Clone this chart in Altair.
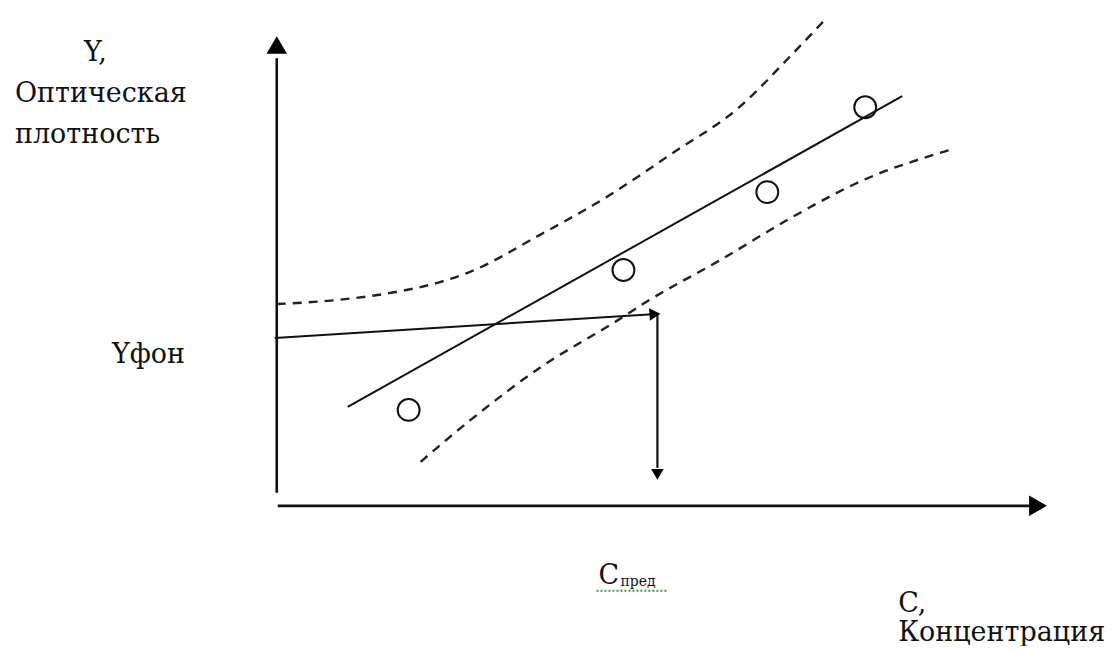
import altair as alt
import pandas as pd

# Coordinate system of the schematic: C (concentration) and Y (optical density), arbitrary units
X_DOMAIN = [-2.69, 8.29]
Y_DOMAIN = [-1.36, 4.98]

# Calibration points (circles)
pts_c = [1.32, 3.47, 4.91, 5.89]
pts_y = [0.96, 2.36, 3.14, 3.99]

# Upper confidence band (dashed)
up_c = [0.00, 0.60, 1.13, 1.60, 1.93, 2.63, 3.30, 3.96, 4.63, 5.13, 5.51]
up_y = [2.02, 2.06, 2.13, 2.23, 2.34, 2.71, 3.09, 3.53, 3.99, 4.49, 4.89]

# Lower confidence band (dashed)
lo_c = [1.44, 1.94, 2.66, 3.37, 3.73, 4.44, 5.16, 5.87, 6.73]
lo_y = [0.44, 0.86, 1.40, 1.83, 2.06, 2.46, 2.89, 3.26, 3.56]

# Solid segments: axes, regression line, arrows
seg_name = ["yaxis", "xaxis", "regr", "harrow", "varrow"]
seg_c1 = [0.00, 0.01, 0.71, -0.02, 3.81]
seg_y1 = [0.13, 0.00, 0.99, 1.68, 1.92]
seg_c2 = [0.00, 7.55, 6.26, 3.80, 3.81]
seg_y2 = [4.48, 0.00, 4.10, 1.92, 0.38]
seg_w = [2.6, 2.6, 2.0, 2.0, 2.2]

# Arrow heads
head_c = [0.00, 7.59, 3.767, 3.81]
head_y = [4.583, 0.00, 1.917, 0.333]
head_ang = [0, 90, 86, 180]
head_size = [420, 420, 160, 160]

# Labels
lab_text = ["Y,", "Оптическая", "плотность", "Yфон", "C", "C,", "Концентрация"]
lab_c = [-1.93, -2.62, -2.62, -1.65, 3.22, 6.22, 6.22]
lab_y = [4.45, 4.04, 3.63, 1.43, -0.78, -1.06, -1.35]
sub_text = ["пред"]
sub_c = [3.44]
sub_y = [-0.80]

xs = alt.Scale(domain=X_DOMAIN, nice=False, zero=False)
ys = alt.Scale(domain=Y_DOMAIN, nice=False, zero=False)

segs = pd.DataFrame({"name": seg_name, "c1": seg_c1, "y1": seg_y1,
                     "c2": seg_c2, "y2": seg_y2, "w": seg_w})
rules = alt.Chart(segs).mark_rule(color="#111", strokeCap="butt").encode(
    x=alt.X("c1:Q", scale=xs, axis=None),
    y=alt.Y("y1:Q", scale=ys, axis=None),
    x2="c2:Q", y2="y2:Q",
    strokeWidth=alt.StrokeWidth("w:Q", scale=None),
)

band = pd.DataFrame({
    "c": up_c + lo_c,
    "y": up_y + lo_y,
    "band": ["upper"] * len(up_c) + ["lower"] * len(lo_c),
    "i": list(range(len(up_c))) + list(range(len(lo_c))),
})
bands = alt.Chart(band).mark_line(color="#222", strokeWidth=2.4,
                                  strokeDash=[9, 7], interpolate="monotone").encode(
    x=alt.X("c:Q", scale=xs, axis=None),
    y=alt.Y("y:Q", scale=ys, axis=None),
    detail="band:N",
    order="i:Q",
)

pts = pd.DataFrame({"c": pts_c, "y": pts_y})
circles = alt.Chart(pts).mark_point(shape="circle", filled=False, color="#111",
                                    size=480, strokeWidth=2.0, opacity=1).encode(
    x=alt.X("c:Q", scale=xs, axis=None),
    y=alt.Y("y:Q", scale=ys, axis=None),
)

heads = pd.DataFrame({"c": head_c, "y": head_y, "ang": head_ang, "s": head_size})
arrows = alt.Chart(heads).mark_point(shape="triangle", filled=True, color="#000",
                                     opacity=1, strokeWidth=0).encode(
    x=alt.X("c:Q", scale=xs, axis=None),
    y=alt.Y("y:Q", scale=ys, axis=None),
    angle=alt.Angle("ang:Q", scale=None),
    size=alt.Size("s:Q", scale=None),
)

labs = pd.DataFrame({"t": lab_text, "c": lab_c, "y": lab_y})
labels = alt.Chart(labs).mark_text(align="left", baseline="alphabetic",
                                   font="DejaVu Serif", fontSize=27, color="#111").encode(
    x=alt.X("c:Q", scale=xs, axis=None),
    y=alt.Y("y:Q", scale=ys, axis=None),
    text="t:N",
)

subs = pd.DataFrame({"t": sub_text, "c": sub_c, "y": sub_y})
sublabels = alt.Chart(subs).mark_text(align="left", baseline="alphabetic",
                                      font="DejaVu Serif", fontSize=14, color="#111").encode(
    x=alt.X("c:Q", scale=xs, axis=None),
    y=alt.Y("y:Q", scale=ys, axis=None),
    text="t:N",
)

# green spell-check squiggle under the label
sq = pd.DataFrame({"c1": [3.20], "c2": [3.90], "y": [-0.85]})
squiggle = alt.Chart(sq).mark_rule(color="#3a9a3a", strokeWidth=2, strokeDash=[2, 2]).encode(
    x=alt.X("c1:Q", scale=xs, axis=None),
    x2="c2:Q",
    y=alt.Y("y:Q", scale=ys, axis=None),
)

chart = alt.layer(bands, rules, circles, arrows, labels, sublabels, squiggle).properties(
    width=1098, height=634, padding=0,
    background="white",
).configure_view(strokeWidth=0)

chart.save("out.html", embed_options={"renderer": "svg", "actions": False})
